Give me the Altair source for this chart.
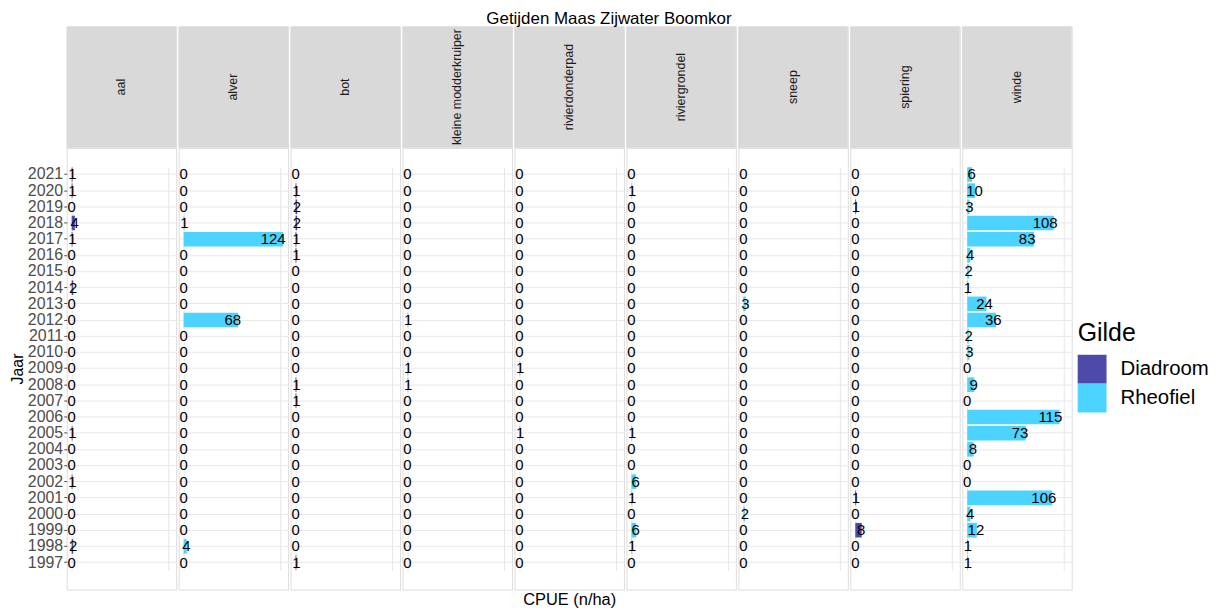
import altair as alt
import pandas as pd

years = [2021, 2020, 2019, 2018, 2017, 2016, 2015, 2014, 2013, 2012, 2011, 2010, 2009,
         2008, 2007, 2006, 2005, 2004, 2003, 2002, 2001, 2000, 1999, 1998, 1997]

species = ["aal", "alver", "bot", "kleine modderkruiper", "rivierdonderpad",
           "riviergrondel", "sneep", "spiering", "winde"]
gilde = ["Diadroom", "Rheofiel", "Diadroom", "Rheofiel", "Rheofiel",
         "Rheofiel", "Rheofiel", "Diadroom", "Rheofiel"]

aal = [1, 1, 0, 4, 1, 0, 0, 2, 0, 0, 0, 0, 0, 0, 0, 0, 1, 0, 0, 1, 0, 0, 0, 2, 0]
alver = [0, 0, 0, 1, 124, 0, 0, 0, 0, 68, 0, 0, 0, 0, 0, 0, 0, 0, 0, 0, 0, 0, 0, 4, 0]
bot = [0, 1, 2, 2, 1, 1, 0, 0, 0, 0, 0, 0, 0, 1, 1, 0, 0, 0, 0, 0, 0, 0, 0, 0, 1]
kleine_modderkruiper = [0, 0, 0, 0, 0, 0, 0, 0, 0, 1, 0, 0, 1, 1, 0, 0, 0, 0, 0, 0, 0, 0, 0, 0, 0]
rivierdonderpad = [0, 0, 0, 0, 0, 0, 0, 0, 0, 0, 0, 0, 1, 0, 0, 0, 1, 0, 0, 0, 0, 0, 0, 0, 0]
riviergrondel = [0, 1, 0, 0, 0, 0, 0, 0, 0, 0, 0, 0, 0, 0, 0, 0, 1, 0, 0, 6, 1, 0, 6, 1, 0]
sneep = [0, 0, 0, 0, 0, 0, 0, 0, 3, 0, 0, 0, 0, 0, 0, 0, 0, 0, 0, 0, 0, 2, 0, 0, 0]
spiering = [0, 0, 1, 0, 0, 0, 0, 0, 0, 0, 0, 0, 0, 0, 0, 0, 0, 0, 0, 0, 1, 0, 8, 0, 0]
winde = [6, 10, 3, 108, 83, 4, 2, 1, 24, 36, 2, 3, 0, 9, 0, 115, 73, 8, 0, 0, 106, 4, 12, 1, 1]

series = [aal, alver, bot, kleine_modderkruiper, rivierdonderpad,
          riviergrondel, sneep, spiering, winde]

rows = []
for s, g, vals in zip(species, gilde, series):
    for y, v in zip(years, vals):
        rows.append({"Soort": s, "Gilde": g, "Jaar": str(y), "CPUE": v})
df = pd.DataFrame(rows)

year_domain = [str(y) for y in years]
FONT = "Liberation Sans"
PW, PH, SH = 110, 444, 122

xscale = alt.Scale(domain=[-6.2, 130.2], nice=False, zero=False)
yscale = alt.Scale(domain=year_domain, paddingInner=0.1, paddingOuter=0,
                   range=[19.5, 424.1])
cscale = alt.Scale(domain=["Diadroom", "Rheofiel"], range=["#4D4AAA", "#4DD3FF"])

grid_color = {"condition": {"test": "datum.value % 40 === 0", "value": "#E6E6E6"},
              "value": "#F2F2F2"}

legend = alt.Legend(title="Gilde", orient="none", legendX=1016, legendY=296,
                    symbolType="square", symbolSize=841, symbolStrokeWidth=0,
                    symbolOpacity=1, titleFontSize=25, labelFontSize=20.5,
                    titleFontWeight="normal", titleColor="black", labelColor="black",
                    labelOffset=14, rowPadding=0, titlePadding=9, titleFont=FONT,
                    labelFont=FONT)

columns = []
for i, s in enumerate(species):
    strip_df = pd.DataFrame({"Soort": [s]})
    strip_bg = alt.Chart(strip_df).mark_rect(fill="#D9D9D9").encode(
        x=alt.value(0), x2=alt.value(PW), y=alt.value(0), y2=alt.value(SH))
    strip_txt = alt.Chart(strip_df).mark_text(
        angle=270, fontSize=12.5, color="#1A1A1A", font=FONT,
        align="center", baseline="middle").encode(
        x=alt.value(PW / 2), y=alt.value(SH / 2), text="Soort:N")
    strip = alt.layer(strip_bg, strip_txt).properties(width=PW, height=SH)

    if i == 0:
        yaxis = alt.Axis(title="Jaar", labelFontSize=16, labelColor="#4D4D4D",
                         labelFont=FONT, titleFont=FONT, titleFontSize=16,
                         titleFontWeight="normal", titleColor="black",
                         tickColor="#4D4D4D", tickSize=3, labelPadding=1,
                         titlePadding=2, domain=False, grid=True,
                         gridColor="#E8E8E8", bandPosition=0.5)
    else:
        yaxis = alt.Axis(labels=False, ticks=False, domain=False, title=None,
                         grid=True, gridColor="#E8E8E8", bandPosition=0.5)

    xaxis = alt.Axis(labels=False, ticks=False, domain=False,
                     values=[0, 20, 40, 60, 80, 100, 120], grid=True,
                     gridColor=grid_color,
                     title="CPUE (n/ha)" if i == 4 else None,
                     titleFontSize=16.5, titleFont=FONT, titleFontWeight="normal",
                     titleColor="black", titlePadding=2)

    base = alt.Chart(df).transform_filter(alt.datum.Soort == s)
    bars = base.mark_bar().encode(
        x=alt.X("CPUE:Q", scale=xscale, axis=xaxis),
        y=alt.Y("Jaar:N", scale=yscale, axis=yaxis),
        color=alt.Color("Gilde:N", scale=cscale, legend=legend),
    )
    labels = base.transform_calculate(xt="datum.CPUE * 0.9").mark_text(
        fontSize=15, color="black", font=FONT, align="center", baseline="middle"
    ).encode(
        x=alt.X("xt:Q", scale=xscale),
        y=alt.Y("Jaar:N", scale=yscale),
        text=alt.Text("CPUE:Q", format=".0f"),
    )
    panel = alt.layer(bars, labels).properties(width=PW, height=PH)
    columns.append(alt.vconcat(strip, panel, spacing=0, bounds="flush"))

chart = alt.hconcat(*columns, spacing=0.5).resolve_scale(
    color="shared"
).properties(
    title=alt.TitleParams("Getijden Maas Zijwater Boomkor", fontSize=17,
                          fontWeight="normal", anchor="middle", offset=-2,
                          font=FONT, color="black"),
    padding={"left": 0, "top": 0, "right": 5, "bottom": 0},
).configure_view(stroke="#BDBDBD").configure(font=FONT)

chart.save("out.html", embed_options={"renderer": "svg", "actions": False})
